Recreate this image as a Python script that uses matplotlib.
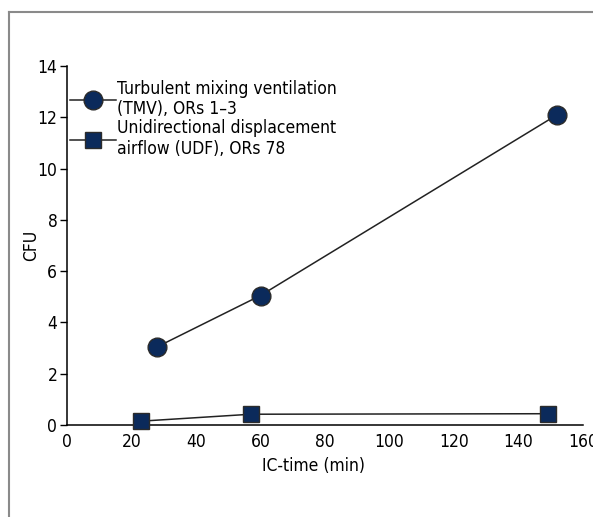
import matplotlib
matplotlib.use("Agg")
import matplotlib.pyplot as plt
from matplotlib.lines import Line2D

plt.rcParams['font.family'] = ['DejaVu Sans']
plt.rcParams['font.stretch'] = 'condensed'

# data
tmv_time = [28, 60, 152]
tmv_cfu = [3.05, 5.05, 12.1]
udf_time = [23, 57, 149]
udf_cfu = [0.15, 0.42, 0.44]

tmv_label = "Turbulent mixing ventilation\n(TMV), ORs 1\u20133"
udf_label = "Unidirectional displacement\nairflow (UDF), ORs 78"
x_ticks = [0, 20, 40, 60, 80, 100, 120, 140, 160]
y_ticks = [0, 2, 4, 6, 8, 10, 12, 14]

navy = "#0b2a5b"
edge = "#2b2b2b"

fig = plt.figure(figsize=(5.93, 5.17), dpi=100)
ax = fig.add_axes([67 / 593, 1 - 425 / 517, 516 / 593, (425 - 66) / 517])

ax.plot(tmv_time, tmv_cfu, color="#222222", lw=1.1, marker="o", ms=13.5,
        mfc=navy, mec=edge, mew=1.0, clip_on=False, label=tmv_label, zorder=3)
ax.plot(udf_time, udf_cfu, color="#222222", lw=1.1, marker="s", ms=12,
        mfc=navy, mec=edge, mew=1.0, clip_on=False, label=udf_label, zorder=3)

ax.set_xlim(0, 160)
ax.set_ylim(0, 14)
ax.set_xticks(x_ticks)
ax.set_yticks(y_ticks)
ax.tick_params(axis="x", length=0, pad=6, labelsize=12.5)
ax.tick_params(axis="y", length=5, width=1, pad=2, labelsize=12.5)
for s in ["top", "right"]:
    ax.spines[s].set_visible(False)
for s in ["left", "bottom"]:
    ax.spines[s].set_linewidth(1.1)

ax.set_xlabel("IC-time (min)", fontsize=12.5)
ax.xaxis.set_label_coords((313 - 67) / 516, -0.088)
ax.set_ylabel("CFU", fontsize=12.5)
ax.yaxis.set_label_coords((40 - 67) / 516, 0.5)

leg = ax.legend(loc="upper left", bbox_to_anchor=(0.005, 0.962), frameon=False,
                fontsize=12.5, handlelength=2.7, handletextpad=0.05,
                labelspacing=0.05, borderaxespad=0.0, borderpad=0.0)

# grey frame around the figure panel
fig.add_artist(Line2D([9 / 593, 9 / 593], [0, 1 - 12 / 517], color="#8a8a8a", lw=1.5))
fig.add_artist(Line2D([9 / 593, 1], [1 - 12 / 517, 1 - 12 / 517], color="#8a8a8a", lw=1.5))

fig.savefig("out.png", dpi=100)
